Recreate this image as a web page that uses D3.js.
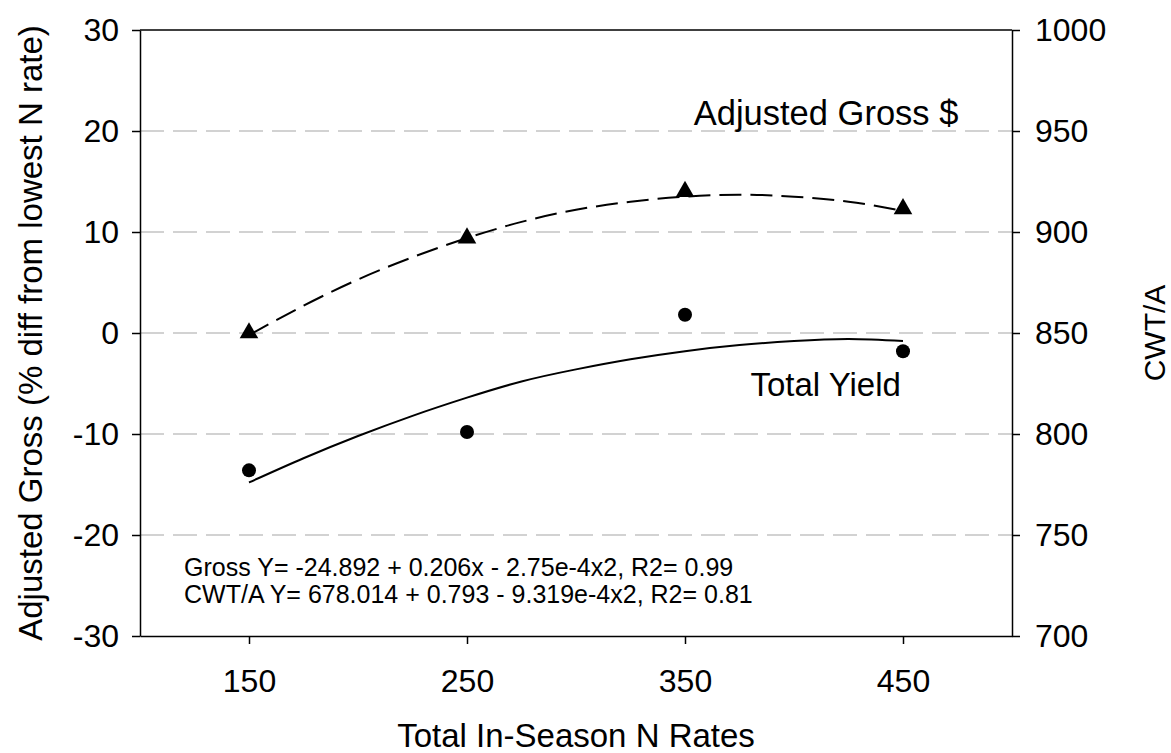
<!DOCTYPE html>
<html>
<head>
<meta charset="utf-8">
<script src="https://cdn.jsdelivr.net/npm/d3@7"></script>
<style>
  body { margin: 0; background: #fff; }
  text { font-family: "Liberation Sans", Arial, sans-serif; fill: #000; }
</style>
</head>
<body>
<div id="chart"></div>
<script>
var W = 1171, H = 753;
var margin = { top: 30, right: 159, bottom: 117, left: 140 };
var width = W - margin.left - margin.right,
    height = H - margin.top - margin.bottom;

// N rates (x)
var nRates = [150, 250, 350, 450];
// Adjusted gross, % diff from lowest N rate (left axis)
var grossPct = [0, 9.4, 14.0, 12.3];
// Total yield, CWT/A (right axis)
var yieldCwt = [782, 801, 859, 841];

// fitted curves
var fitX = [150, 175, 200, 225, 250, 275, 300, 325, 350, 375, 400, 425, 450];
var grossFit = [-0.2, 2.7, 5.3, 7.5, 9.4, 11.0, 12.2, 13.0, 13.5, 13.7, 13.5, 13.0, 12.1];
var yieldFit = [776, 788, 799, 809, 818, 826, 832, 837, 841, 844, 846, 847, 846];

var xTicks = [150, 250, 350, 450];
var leftTicks = [-30, -20, -10, 0, 10, 20, 30];
var rightTicks = [700, 750, 800, 850, 900, 950, 1000];
var gridTicks = [-20, -10, 0, 10, 20];

var equations = [
  "Gross Y= -24.892 + 0.206x - 2.75e-4x2, R2= 0.99",
  "CWT/A Y= 678.014 + 0.793 - 9.319e-4x2, R2= 0.81"
];

var xScale = d3.scaleLinear().domain([100, 500]).range([0, width]);
var yLeft = d3.scaleLinear().domain([-30, 30]).range([height, 0]);
var yRight = d3.scaleLinear().domain([700, 1000]).range([height, 0]);

var plain = function(d) { return String(d); };

var svg = d3.select("#chart").append("svg")
    .attr("width", W)
    .attr("height", H);

var g = svg.append("g")
    .attr("transform", "translate(" + margin.left + "," + margin.top + ")");

// grid
g.selectAll(".grid")
  .data(gridTicks)
  .enter().append("line")
    .attr("x1", 0).attr("x2", width)
    .attr("y1", function(d) { return yLeft(d); })
    .attr("y2", function(d) { return yLeft(d); })
    .attr("stroke", "#c4c4c4")
    .attr("stroke-width", 1.5)
    .attr("stroke-dasharray", "24,9");

// frame top
g.append("line")
    .attr("x1", 0).attr("x2", width)
    .attr("y1", 0).attr("y2", 0)
    .attr("stroke", "#000").attr("stroke-width", 1.5);

// axes
var xAxis = g.append("g")
    .attr("transform", "translate(0," + height + ")")
    .call(d3.axisBottom(xScale).tickValues(xTicks).tickFormat(plain)
      .tickSize(8).tickPadding(25).tickSizeOuter(0));
var leftAxis = g.append("g")
    .call(d3.axisLeft(yLeft).tickValues(leftTicks).tickFormat(plain)
      .tickSize(8).tickPadding(13).tickSizeOuter(0));
var rightAxis = g.append("g")
    .attr("transform", "translate(" + width + ",0)")
    .call(d3.axisRight(yRight).tickValues(rightTicks).tickFormat(plain)
      .tickSize(8).tickPadding(15).tickSizeOuter(0));

[xAxis, leftAxis, rightAxis].forEach(function(a) {
  a.attr("font-family", null).attr("font-size", null);
  a.select(".domain").attr("stroke-width", 1.5);
  a.selectAll(".tick line").attr("stroke-width", 1.5);
  a.selectAll(".tick text").style("font-size", "32px").attr("fill", "#000");
});
xAxis.selectAll(".tick text").attr("dy", "0.71em");

// fitted curves
var grossLine = d3.line()
  .curve(d3.curveNatural)
  .x(function(d, i) { return xScale(fitX[i]); })
  .y(function(d) { return yLeft(d); });
var yieldLine = d3.line()
  .curve(d3.curveNatural)
  .x(function(d, i) { return xScale(fitX[i]); })
  .y(function(d) { return yRight(d); });

g.append("path")
    .attr("d", grossLine(grossFit))
    .attr("fill", "none")
    .attr("stroke", "#000")
    .attr("stroke-width", 2)
    .attr("stroke-dasharray", "22,9");

g.append("path")
    .attr("d", yieldLine(yieldFit))
    .attr("fill", "none")
    .attr("stroke", "#000")
    .attr("stroke-width", 2);

// markers
var tri = d3.symbol().type(d3.symbolTriangle).size(150);
g.selectAll(".tri")
  .data(grossPct)
  .enter().append("path")
    .attr("d", tri)
    .attr("transform", function(d, i) {
      return "translate(" + xScale(nRates[i]) + "," + yLeft(d) + ")";
    })
    .attr("fill", "#000");

g.selectAll(".dot")
  .data(yieldCwt)
  .enter().append("circle")
    .attr("cx", function(d, i) { return xScale(nRates[i]); })
    .attr("cy", function(d) { return yRight(d); })
    .attr("r", 7)
    .attr("fill", "#000");

// annotations
g.append("text")
    .attr("x", xScale(354)).attr("y", yLeft(20) - 6)
    .style("font-size", "34.5px")
    .text("Adjusted Gross $");
g.append("text")
    .attr("x", xScale(380)).attr("y", yLeft(-6.2))
    .style("font-size", "33px")
    .text("Total Yield");

g.selectAll(".eq")
  .data(equations)
  .enter().append("text")
    .attr("x", xScale(120.2))
    .attr("y", function(d, i) { return yLeft(-24.1) + i * 27; })
    .style("font-size", "25px")
    .text(function(d) { return d; });

// axis titles
svg.append("text")
    .attr("transform", "translate(42," + (margin.top + height / 2) + ") rotate(-90)")
    .attr("text-anchor", "middle")
    .style("font-size", "33px")
    .text("Adjusted Gross (% diff from lowest N rate)");
svg.append("text")
    .attr("transform", "translate(1165," + (margin.top + height / 2) + ") rotate(-90)")
    .attr("text-anchor", "middle")
    .style("font-size", "30px")
    .text("CWT/A");
svg.append("text")
    .attr("x", margin.left + xScale(300))
    .attr("y", 747)
    .attr("text-anchor", "middle")
    .style("font-size", "33px")
    .text("Total In-Season N Rates");
</script>
</body>
</html>
